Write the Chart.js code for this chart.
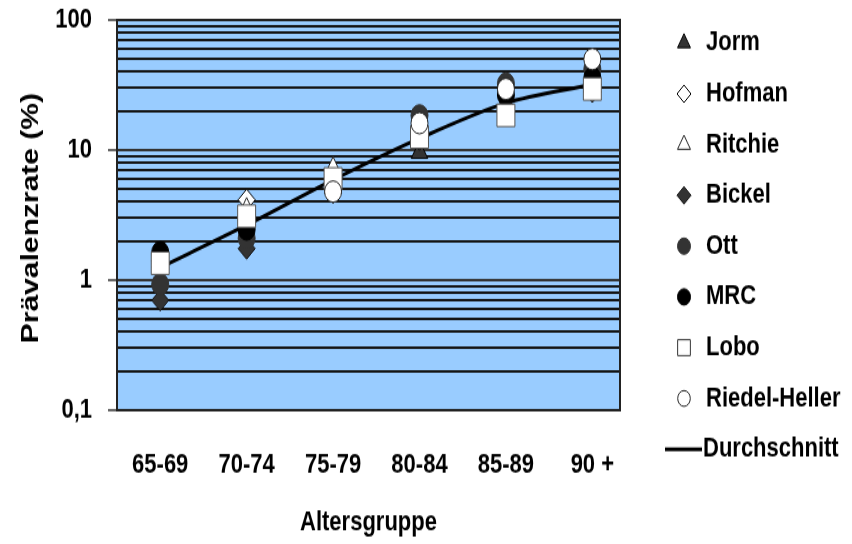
<!DOCTYPE html>
<html lang="de">
<head>
  <meta charset="UTF-8">
  <title>Prävalenzrate nach Altersgruppe</title>
  <script src="https://cdn.jsdelivr.net/npm/chart.js"></script>
  <style>
    body { margin: 0; background: #fff; }
    #wrap { width: 852px; height: 544px; overflow: hidden; }
    /* the chart is drawn flat and stretched to full height */
    #chart { display: block; transform: scaleY(1.2506); transform-origin: 0 0; }
  </style>
</head>
<body>
  <div id="wrap"><canvas id="chart" width="852" height="435"></canvas></div>

  <script>
    const ageGroups = ['65-69', '70-74', '75-79', '80-84', '85-89', '90 +'];
    const yMajorTicks = [0.1, 1, 10, 100];
    const yTickLabels = ['0,1', '1', '10', '100'];

    // prevalence in % per age group
    const jorm         = [1.4, 2.8, 5.6, 9.6, 21, 45];
    const hofman       = [1.4, 4.15, 6.5, 12.6, 21.6, 32];
    const ritchie      = [1.5, 3.5, 7.2, 12.5, 22, 31.5];
    const bickel       = [0.7, 1.75, 4.7, 12, 20, 28];
    const ott          = [0.93, 2.1, 6.0, 18.5, 32.5, 42];
    const mrc          = [1.64, 2.45, 5.7, 14, 26.5, 36];
    const lobo         = [1.35, 3.1, 6.0, 12.6, 18.5, 29.5];
    const riedelHeller = [null, null, 4.8, 16.1, 29.5, 50];
    const durchschnitt = [1.25, 2.65, 5.9, 12.3, 23, 32];

    const FONT = "'Liberation Sans', Arial, sans-serif";
    const toPoints = arr => arr.map((v, i) => ({ x: i, y: v })).filter(p => p.y !== null);

    const series = [
      { label: 'Jorm',          data: jorm,         style: 'triangle', r: 9.5,  bg: '#333333', bd: '#000000', order: 8, lr: 7.5 },
      { label: 'Hofman',        data: hofman,       style: 'rectRot',  r: 8.5,  bg: '#ffffff', bd: '#000000', order: 7, lr: 7 },
      { label: 'Ritchie',       data: ritchie,      style: 'triangle', r: 9.5,  bg: '#ffffff', bd: '#222222', order: 6, lr: 7.5 },
      { label: 'Bickel',        data: bickel,       style: 'rectRot',  r: 8.5,  bg: '#333333', bd: '#111111', order: 5, lr: 7 },
      { label: 'Ott',           data: ott,          style: 'circle',   r: 8.5,  bg: '#333333', bd: '#333333', order: 4, lr: 6.5 },
      { label: 'MRC',           data: mrc,          style: 'circle',   r: 8.5,  bg: '#000000', bd: '#000000', order: 3, lr: 6.5 },
      { label: 'Lobo',          data: lobo,         style: 'rect',     r: 12.7, bg: '#ffffff', bd: '#555555', order: 2, lr: 9 },
      { label: 'Riedel-Heller', data: riedelHeller, style: 'circle',   r: 8.5,  bg: '#ffffff', bd: '#222222', order: 1, lr: 6.3 }
    ];

    const datasets = series.map(s => ({
      type: 'scatter',
      label: s.label,
      data: toPoints(s.data),
      pointStyle: s.style,
      pointRadius: s.r,
      backgroundColor: s.bg,
      borderColor: s.bd,
      pointBorderWidth: 1,
      order: s.order
    }));
    datasets.push({
      type: 'line',
      label: 'Durchschnitt',
      data: toPoints(durchschnitt),
      borderColor: '#000',
      borderWidth: 3,
      pointRadius: 0,
      tension: 0.3,
      order: 9
    });

    // blue plot background and frame
    const plotFrame = {
      id: 'plotFrame',
      beforeDraw(chart) {
        const { ctx, chartArea: a } = chart;
        ctx.save();
        ctx.fillStyle = '#99ccff';
        ctx.fillRect(a.left, a.top, a.right - a.left, a.bottom - a.top);
        ctx.restore();
      },
      beforeDatasetsDraw(chart) {
        const { ctx, chartArea: a } = chart;
        ctx.save();
        ctx.strokeStyle = '#222';
        ctx.lineWidth = 2;
        ctx.strokeRect(a.left, a.top, a.right - a.left, a.bottom - a.top);
        ctx.restore();
      }
    };

    // axis titles and the legend column on the right
    const annotations = {
      id: 'annotations',
      afterDraw(chart) {
        const { ctx, chartArea: a } = chart;
        ctx.save();
        ctx.fillStyle = '#000';
        ctx.font = 'bold 22px ' + FONT;
        ctx.textBaseline = 'middle';

        ctx.textAlign = 'center';
        ctx.fillText('Altersgruppe', (a.left + a.right) / 2, 417.6);

        ctx.save();
        ctx.translate(31, 174.4);
        ctx.rotate(-Math.PI / 2);
        ctx.font = 'bold 24px ' + FONT;
        ctx.fillText('Prävalenzrate (%)', 0, 0);
        ctx.restore();

        ctx.textAlign = 'left';
        series.forEach((s, i) => {
          const y = 34.4 + i * 40.6;
          ctx.fillStyle = s.bg;
          ctx.strokeStyle = s.bd === '#555555' ? '#333' : s.bd;
          ctx.lineWidth = 1;
          Chart.helpers.drawPoint(ctx, { pointStyle: s.style, radius: s.lr, borderWidth: 1, rotation: 0 }, 684, y);
          ctx.fillStyle = '#000';
          ctx.fillText(s.label, 706, y);
        });
        const ly = 34.4 + 8 * 40.6;
        ctx.strokeStyle = '#000';
        ctx.lineWidth = 3;
        ctx.beginPath();
        ctx.moveTo(665, ly);
        ctx.lineTo(702, ly);
        ctx.stroke();
        ctx.fillText('Durchschnitt', 703, ly);
        ctx.restore();
      }
    };

    new Chart(document.getElementById('chart'), {
      data: { datasets },
      plugins: [plotFrame, annotations],
      options: {
        responsive: false,
        devicePixelRatio: 1,
        animation: false,
        events: [],
        layout: { padding: { left: 39.3, right: 232, top: 16, bottom: 18.6 } },
        plugins: { legend: { display: false }, tooltip: { enabled: false } },
        scales: {
          x: {
            type: 'linear',
            position: 'bottom',
            min: -0.5,
            max: 5.32,
            afterBuildTicks: scale => { scale.ticks = ageGroups.map((_, i) => ({ value: i })); },
            ticks: {
              autoSkip: false,
              maxRotation: 0,
              padding: 31,
              color: '#000',
              font: { family: FONT, size: 22, weight: 'bold' },
              callback: v => ageGroups[v] ?? ''
            },
            grid: { display: false, drawTicks: false },
            border: { display: false }
          },
          y: {
            type: 'logarithmic',
            min: 0.1,
            max: 100,
            afterBuildTicks: scale => {
              const ticks = [];
              [0.1, 1, 10].forEach(d => {
                for (let k = 1; k <= 9; k++) ticks.push({ value: d * k, major: k === 1 });
              });
              ticks.push({ value: 100, major: true });
              scale.ticks = ticks;
            },
            // the top label may overhang the plot; the layout padding covers it
            afterFit: scale => { scale.paddingTop = 0; },
            ticks: {
              autoSkip: false,
              padding: 16,
              color: '#000',
              font: { family: FONT, size: 22, weight: 'bold' },
              callback: v => {
                const i = yMajorTicks.indexOf(v);
                return i >= 0 ? yTickLabels[i] : '';
              }
            },
            grid: {
              color: c => (c.tick && c.tick.major) ? '#333333' : '#141414',
              lineWidth: 2,
              tickLength: 9,
              tickColor: c => (c.tick && c.tick.major) ? '#333333' : 'rgba(0,0,0,0)',
              tickWidth: 1.5
            },
            border: { display: false }
          }
        }
      }
    });
  </script>
</body>
</html>
